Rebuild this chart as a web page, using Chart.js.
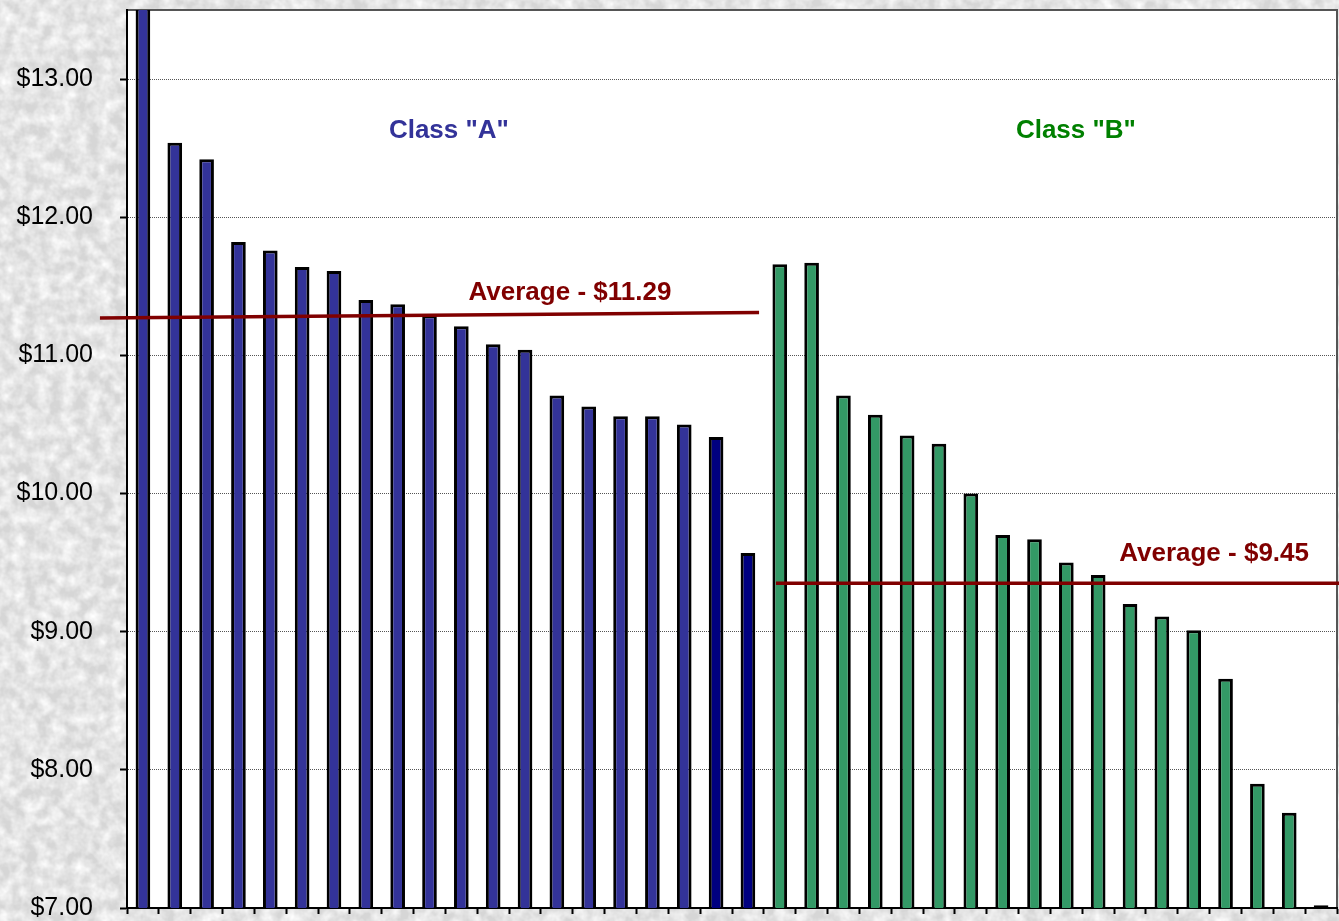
<!DOCTYPE html>
<html>
<head>
<meta charset="utf-8">
<title>Class A / Class B</title>
<script src="https://cdn.jsdelivr.net/npm/chart.js@4"></script>
<style>
  html, body {
    margin: 0;
    padding: 0;
    width: 1339px;
    height: 921px;
    overflow: hidden;
    background: #d6d6d6 url("data:image/svg+xml;utf8,<svg xmlns='http://www.w3.org/2000/svg' width='1339' height='921'><filter id='f' x='0' y='0' width='100%' height='100%'><feTurbulence type='fractalNoise' baseFrequency='0.08' numOctaves='3' seed='3'/><feColorMatrix values='0 0 0 0 1 0 0 0 0 1 0 0 0 0 1 1.6 0 0 0 -0.45'/></filter><rect width='1339' height='921' filter='url(%23f)'/></svg>") no-repeat;
  }
  canvas { display: block; }
</style>
</head>
<body>
<canvas id="myChart" width="1339" height="921"></canvas>
<script>
// hourly rates, sorted high to low within each class
var classA = [13.90, 12.54, 12.42, 11.82, 11.76, 11.64, 11.61, 11.40, 11.37, 11.29,
              11.21, 11.08, 11.04, 10.71, 10.63, 10.56, 10.56, 10.50, 10.41, 9.57];
var classB = [11.66, 11.67, 10.71, 10.57, 10.42, 10.36, 10.00, 9.70, 9.67, 9.50,
              9.41, 9.20, 9.11, 9.01, 8.66, 7.90, 7.69, 7.02];

var classNames = ['Class "A"', 'Class "B"'];
var averageTexts = ['Average - $11.29', 'Average - $9.45'];
// where the drawn average lines sit on the value axis (start, end)
var averageLevelsA = [11.27, 11.31];
var averageLevelsB = [9.35, 9.35];

var yTicks = [7, 8, 9, 10, 11, 12, 13];

var labels = classA.map(function(v, i){ return 'A' + (i + 1); })
    .concat(classB.map(function(v, i){ return 'B' + (i + 1); }));
var values = classA.concat(classB);

var barColors = values.map(function(v, i){
    if (i >= classA.length) return '#339966';
    if (i >= classA.length - 2) return '#000080';
    return '#333399';
});

var FONT = 'Arial, "Liberation Sans", sans-serif';

var plotBackground = {
    id: 'plotBackground',
    beforeDraw: function(chart){
        var a = chart.chartArea;
        var c = chart.ctx;
        c.save();
        c.fillStyle = '#ffffff';
        c.fillRect(a.left, a.top, a.right - a.left, a.bottom - a.top);
        c.strokeStyle = '#555555';
        c.lineWidth = 2;
        c.beginPath();
        c.moveTo(a.left, a.top);
        c.lineTo(a.right, a.top);
        c.lineTo(a.right, a.bottom);
        c.stroke();
        c.restore();
    }
};

var averages = {
    id: 'averages',
    afterDatasetsDraw: function(chart){
        var x = chart.scales.x;
        var y = chart.scales.y;
        var c = chart.ctx;
        c.save();
        c.strokeStyle = '#800000';
        c.lineWidth = 3.5;
        c.beginPath();
        c.moveTo(x.getPixelForValue(-1.35), y.getPixelForValue(averageLevelsA[0]));
        c.lineTo(x.getPixelForValue(19.35), y.getPixelForValue(averageLevelsA[1]));
        c.stroke();
        c.beginPath();
        c.moveTo(x.getPixelForValue(19.88), y.getPixelForValue(averageLevelsB[0]));
        c.lineTo(x.getPixelForValue(37.6), y.getPixelForValue(averageLevelsB[1]));
        c.stroke();

        c.font = 'bold 26px ' + FONT;
        c.textAlign = 'center';
        c.textBaseline = 'alphabetic';
        c.fillStyle = '#800000';
        c.fillText(averageTexts[0], x.getPixelForValue(13.41), y.getPixelForValue(11.40));
        c.fillText(averageTexts[1], x.getPixelForValue(33.64), y.getPixelForValue(9.51));

        c.fillStyle = '#333399';
        c.fillText(classNames[0], x.getPixelForValue(9.61), y.getPixelForValue(12.57));
        c.fillStyle = '#008000';
        c.fillText(classNames[1], x.getPixelForValue(29.3), y.getPixelForValue(12.57));
        c.restore();
    }
};

var ctx = document.getElementById('myChart');

var myChart = new Chart(ctx, {
    type: 'bar',
    data: {
        labels: labels,
        datasets: [{
            label: 'Rate',
            data: values,
            backgroundColor: barColors,
            borderColor: '#000000',
            borderWidth: 3,
            barPercentage: 0.46,
            categoryPercentage: 1.0
        }]
    },
    options: {
        responsive: false,
        animation: false,
        layout: {
            padding: { top: 10, right: 2, left: 0, bottom: 0 }
        },
        plugins: {
            legend: { display: false },
            tooltip: { enabled: false }
        },
        scales: {
            x: {
                grid: {
                    display: true,
                    offset: true,
                    drawOnChartArea: false,
                    drawTicks: true,
                    tickLength: 6,
                    tickColor: '#000000',
                    tickWidth: 2
                },
                border: { display: true, color: '#000000', width: 2 },
                ticks: { display: false },
                afterFit: function(scale){
                    scale.height = 13;
                    scale.paddingLeft = 0;
                    scale.paddingRight = 0;
                }
            },
            y: {
                min: 7,
                max: 13.5,
                afterBuildTicks: function(scale){
                    scale.ticks = yTicks.map(function(v){ return { value: v }; });
                },
                grid: {
                    color: '#555555',
                    lineWidth: 1,
                    drawTicks: true,
                    tickLength: 7,
                    tickColor: '#000000',
                    tickWidth: 2
                },
                border: { display: true, color: '#000000', width: 2, dash: [1, 1] },
                ticks: {
                    padding: 27,
                    color: '#000000',
                    font: { family: FONT, size: 25 },
                    callback: function(v){ return '$' + Number(v).toFixed(2); }
                },
                afterFit: function(scale){
                    scale.width = 127;
                    scale.paddingTop = 0;
                    scale.paddingBottom = 0;
                }
            }
        }
    },
    plugins: [plotBackground, averages]
});
</script>
</body>
</html>
